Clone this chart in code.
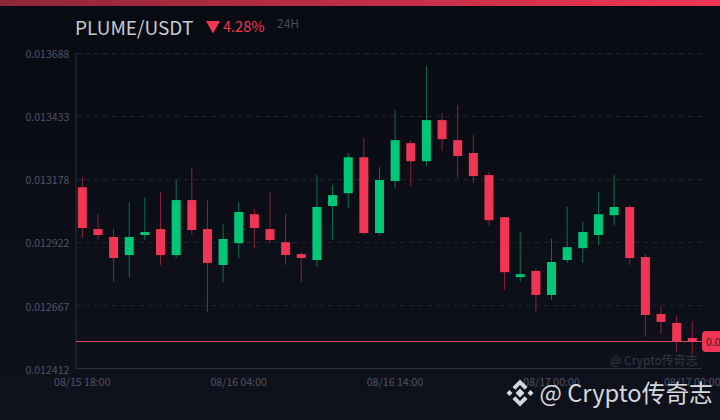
<!DOCTYPE html>
<html>
<head>
<meta charset="utf-8">
<script src="https://cdn.jsdelivr.net/npm/d3@7"></script>
<style>
 html, body { margin: 0; padding: 0; background: #0a0c14; overflow: hidden; }
 svg, svg text { display: block; font-family: "Noto Sans CJK SC", "Noto Sans", sans-serif; }
</style>
</head>
<body>
<div id="chart"></div>
<script>
 const opens = [0.013144, 0.012975, 0.012943, 0.01287, 0.012951, 0.012975, 0.01287, 0.013092, 0.012975, 0.01283,
  0.012918, 0.013035, 0.012975, 0.012922, 0.012874, 0.01285, 0.013068, 0.01312, 0.013265, 0.012959,
  0.013169, 0.013322, 0.013249, 0.013415, 0.013334, 0.013282, 0.013193, 0.013023, 0.012781, 0.012806,
  0.012709, 0.01285, 0.012898, 0.012951, 0.013031, 0.013064, 0.012862, 0.012632, 0.012596, 0.012535];
 const closes = [0.012979, 0.012951, 0.012858, 0.012943, 0.012963, 0.01287, 0.013092, 0.012971, 0.012838, 0.012935,
  0.013044, 0.012979, 0.012931, 0.01287, 0.012858, 0.013064, 0.013112, 0.013265, 0.012959, 0.013173,
  0.013334, 0.013249, 0.013415, 0.013338, 0.01327, 0.013189, 0.013011, 0.012801, 0.012793, 0.012709,
  0.012842, 0.012902, 0.012963, 0.013035, 0.013064, 0.012858, 0.012628, 0.0126, 0.012521, 0.012521];
 const highs = [0.013185, 0.013035, 0.012975, 0.013084, 0.013104, 0.013124, 0.013173, 0.013225, 0.013092, 0.012995,
  0.013084, 0.013056, 0.013124, 0.013035, 0.012882, 0.013193, 0.013152, 0.013282, 0.013342, 0.013225,
  0.013455, 0.013334, 0.013633, 0.013443, 0.013475, 0.013354, 0.013205, 0.013023, 0.012963, 0.012814,
  0.012935, 0.013064, 0.013003, 0.013124, 0.013193, 0.013072, 0.012874, 0.012664, 0.012624, 0.012604];
 const lows = [0.012939, 0.012931, 0.012761, 0.012781, 0.012931, 0.01283, 0.012858, 0.012951, 0.01264, 0.012761,
  0.012858, 0.012898, 0.012918, 0.01283, 0.012761, 0.012822, 0.012931, 0.01306, 0.012951, 0.012951,
  0.01314, 0.013148, 0.013229, 0.01329, 0.013181, 0.013161, 0.012991, 0.012729, 0.012761, 0.01264,
  0.012688, 0.012838, 0.012838, 0.01291, 0.012991, 0.01283, 0.012539, 0.012551, 0.012479, 0.012471];
 const priceTicks = [0.012412, 0.012667, 0.012922, 0.013178, 0.013433, 0.013688];
 const timeTicks = [
  { index: 0, label: "08/15 18:00" },
  { index: 10, label: "08/16 04:00" },
  { index: 20, label: "08/16 14:00" },
  { index: 30, label: "08/17 00:00" },
  { index: 39, label: "08/17 00:00" },
 ];
 const lastPrice = 0.012521;

 const width = 720;
 const height = 420;
 const red = "#f03654";
 const green = "#00c878";
 const font = '"Noto Sans CJK SC", "Noto Sans", sans-serif';

 const svg = d3
  .select("#chart")
  .append("svg")
  .attr("width", width)
  .attr("height", height);

 const defs = svg.append("defs");

 const bgGrad = defs
  .append("linearGradient")
  .attr("id", "bg")
  .attr("x1", 0)
  .attr("x2", 0)
  .attr("y1", 0)
  .attr("y2", 1);
 bgGrad.append("stop").attr("offset", "0%").attr("stop-color", "#090b13");
 bgGrad.append("stop").attr("offset", "100%").attr("stop-color", "#0f121c");

 const barGrad = defs
  .append("linearGradient")
  .attr("id", "topbar")
  .attr("x1", 0)
  .attr("x2", 1)
  .attr("y1", 0)
  .attr("y2", 0);
 barGrad.append("stop").attr("offset", "0%").attr("stop-color", "#8e2638");
 barGrad.append("stop").attr("offset", "100%").attr("stop-color", red);

 svg.append("rect").attr("width", width).attr("height", height).attr("fill", "url(#bg)");
 svg.append("rect").attr("width", width).attr("height", 6).attr("fill", "url(#topbar)");

 // header
 svg
  .append("text")
  .attr("x", 75)
  .attr("y", 35)
  .attr("font-size", 19)
  .attr("fill", "#c6cad2")
  .text("PLUME/USDT");
 svg
  .append("path")
  .attr("d", "M206,21H220L213,33.5Z")
  .attr("fill", red);
 svg
  .append("text")
  .attr("x", 223)
  .attr("y", 32)
  .attr("font-size", 14.5)
  .attr("fill", red)
  .text("4.28%");
 svg
  .append("text")
  .attr("x", 277)
  .attr("y", 28)
  .attr("font-size", 12)
  .attr("fill", "#484c5e")
  .text("24H");

 const x = d3
  .scaleBand()
  .domain(d3.range(opens.length))
  .range([74.5, 700.1]);

 const y = d3
  .scaleLinear()
  .domain([priceTicks[0], priceTicks[priceTicks.length - 1]])
  .range([368.5, 52.5]);

 // grid, no line at the bottom tick
 svg
  .append("g")
  .selectAll("line")
  .data(priceTicks.slice(1))
  .enter()
  .append("line")
  .attr("x1", 76)
  .attr("x2", 703)
  .attr("y1", (d) => Math.round(y(d)) + 0.5)
  .attr("y2", (d) => Math.round(y(d)) + 0.5)
  .attr("stroke", "#1e212e")
  .attr("stroke-dasharray", "5,4");

 const yAxis = svg
  .append("g")
  .attr("transform", "translate(75.5,0)")
  .call(
   d3
    .axisLeft(y)
    .tickValues(priceTicks)
    .tickFormat(d3.format(".6f"))
    .tickSize(0)
    .tickPadding(6)
  )
  .attr("font-family", font);
 yAxis.select(".domain").attr("stroke", "#2c2f3e");
 yAxis
  .selectAll("text")
  .attr("font-size", 10.6)
  .attr("fill", "#4e5264")
  .attr("dy", "0.45em");

 const xAxis = svg
  .append("g")
  .attr("transform", "translate(0,368.5)")
  .call(
   d3
    .axisBottom(x)
    .tickValues(timeTicks.map((d) => d.index))
    .tickFormat((i) => timeTicks.find((d) => d.index === i).label)
    .tickSize(0)
    .tickPadding(10)
  )
  .attr("font-family", font);
 xAxis.select(".domain").attr("d", "M75.5,0H702").attr("stroke", "#2c2f3e");
 xAxis.selectAll("text").attr("font-size", 10.6).attr("fill", "#4e5264");

 const candles = d3.range(opens.length).map((i) => ({
  i: i,
  open: opens[i],
  close: closes[i],
  high: highs[i],
  low: lows[i],
  up: closes[i] > opens[i],
 }));

 const candle = svg.append("g").selectAll("g").data(candles).enter().append("g");

 candle
  .append("line")
  .attr("x1", (d) => x(d.i) + x.bandwidth() / 2)
  .attr("x2", (d) => x(d.i) + x.bandwidth() / 2)
  .attr("y1", (d) => y(d.high))
  .attr("y2", (d) => y(d.low))
  .attr("stroke", (d) => (d.up ? "#067450" : "#8c2339"))
  .attr("stroke-width", 1);

 candle
  .append("rect")
  .attr("x", (d) => x(d.i) + x.bandwidth() / 2 - 4.5)
  .attr("width", 9)
  .attr("y", (d) => y(Math.max(d.open, d.close)))
  .attr("height", (d) => Math.abs(y(d.open) - y(d.close)))
  .attr("fill", (d) => (d.up ? green : red));

 // last price line and tag
 svg
  .append("line")
  .attr("x1", 76)
  .attr("x2", 702)
  .attr("y1", y(lastPrice))
  .attr("y2", y(lastPrice))
  .attr("stroke", "#d84a64")
  .attr("stroke-width", 1);
 svg
  .append("rect")
  .attr("x", 702)
  .attr("y", y(lastPrice) - 10.5)
  .attr("width", 40)
  .attr("height", 21)
  .attr("rx", 4)
  .attr("fill", red);
 svg
  .append("text")
  .attr("x", 706)
  .attr("y", y(lastPrice) + 4)
  .attr("font-size", 10.6)
  .attr("fill", "#4a1420")
  .text(d3.format(".6f")(lastPrice));

 // watermarks
 svg
  .append("text")
  .attr("x", 610)
  .attr("y", 365)
  .attr("font-size", 12)
  .attr("fill", "#343848")
  .text("@ Crypto传奇志");

 const logo = svg.append("g").attr("transform", "translate(520,393)").attr("fill", "#d6d8dc");
 logo.append("path").attr("d", "M0,-4.5L4.5,0L0,4.5L-4.5,0Z");
 logo.append("path").attr("d", "M-13.5,0L-10.5,-3L-7.5,0L-10.5,3Z");
 logo.append("path").attr("d", "M13.5,0L10.5,-3L7.5,0L10.5,3Z");
 logo.append("path").attr("d", "M0,-13.5L7.5,-6L4.7,-3.2L0,-7.9L-4.7,-3.2L-7.5,-6Z");
 logo.append("path").attr("d", "M0,13.5L7.5,6L4.7,3.2L0,7.9L-4.7,3.2L-7.5,6Z");

 svg
  .append("text")
  .attr("x", 539.5)
  .attr("y", 402)
  .attr("font-size", 23.7)
  .attr("fill", "#d6d8dc")
  .text("@ Crypto传奇志");
</script>
</body>
</html>
